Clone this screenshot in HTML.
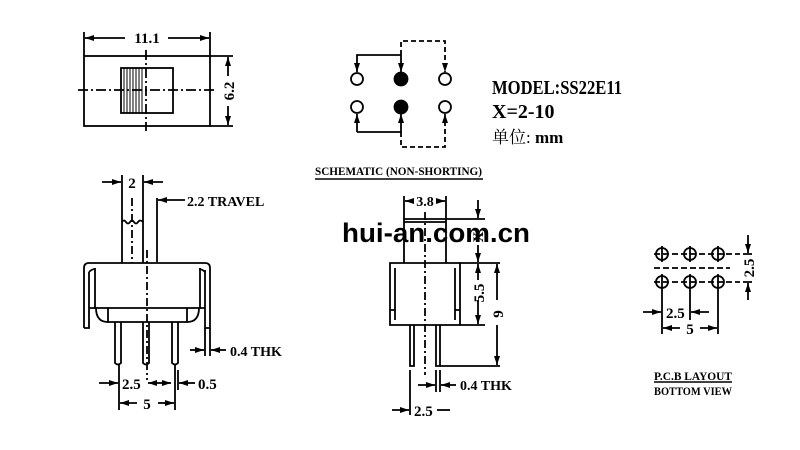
<!DOCTYPE html>
<html><head><meta charset="utf-8"><style>
html,body{margin:0;padding:0;background:#fff}
svg{display:block}
text{font-family:"Liberation Serif",serif;font-weight:bold;fill:#000}
</style></head><body>
<svg width="800" height="450" viewBox="0 0 800 450" xmlns="http://www.w3.org/2000/svg">
<defs>
<marker id="a" markerWidth="9" markerHeight="6" refX="9" refY="3" orient="auto" markerUnits="userSpaceOnUse"><path d="M0,0 L9,3 L0,6z" fill="#000"/></marker>
</defs>
<g stroke="#000" stroke-width="1.8" fill="none">
<rect x="84" y="56" width="126" height="70"/>
<rect x="121" y="68" width="52" height="45"/>
<path d="M124 68V113M127 68V113M130 68V113M133 68V113M136 68V113M139 68V113M142 68V113" stroke-width="1"/>
<path d="M146 50V131" stroke-dasharray="10,3,2,3"/>
<path d="M78 90H215" stroke-dasharray="10,3,2,3"/>
<path d="M84 32V56M210 32V56"/>
<path d="M125 38H85" marker-end="url(#a)"/><path d="M168 38H209" marker-end="url(#a)"/>
<path d="M210 56H233M210 126H233"/>
<path d="M228 76V57" marker-end="url(#a)"/><path d="M228 106V125" marker-end="url(#a)"/>
<circle cx="357" cy="79" r="6"/><circle cx="445" cy="79" r="6"/>
<circle cx="357" cy="107" r="6"/><circle cx="445" cy="107" r="6"/>
<circle cx="401" cy="79" r="6.5" fill="#000"/><circle cx="401" cy="107" r="6.5" fill="#000"/>
<path d="M401 55V72" marker-end="url(#a)"/>
<path d="M401 55H357V72" marker-end="url(#a)"/>
<path d="M401 55V41H445V72" stroke-dasharray="5,3" marker-end="url(#a)"/>
<path d="M357 132V114" marker-end="url(#a)"/>
<path d="M357 132H401V114" marker-end="url(#a)"/>
<path d="M401 132V147H445V114" stroke-dasharray="5,3" marker-end="url(#a)"/>
<path d="M315 179H483" stroke-width="1.5"/>
<path d="M122 263V222 q2,-3 4,0 q2,3 4,0 q2,-3 4,0 q2,3 4,0 q2,-3 5,0 V263"/>
<path d="M132 198V263" stroke-dasharray="8,3,2,3"/>
<path d="M157 198V262"/>
<path d="M122 175V222M143 175V222"/>
<path d="M102 182H121" marker-end="url(#a)"/><path d="M163 182H144" marker-end="url(#a)"/>
<path d="M185 200H158" marker-end="url(#a)"/>
<path d="M84 328V268 q0,-5 5,-5 H205 q5,0 5,5 V328 H205 V270"/>
<path d="M84 328H89V272"/>
<path d="M89 272 q3,-3 6,-3 M205 272 q-3,-3 -6,-3"/>
<path d="M95 268V308 H108 V322 H187 V308 H200 V268"/>
<path d="M89 308H96 M108 308H187 M200 308H205" />
<path d="M96 308 q0,14 12,14 M199 308 q0,14 -12,14" />
<path d="M147 250V380" stroke-dasharray="8,3,2,3"/>
<path d="M115 322V363 q3,3 6,0 V322 M143 322V363 q3,3 6,0 V322 M172 322V363 q3,3 6,0 V322"/>
<path d="M205 328V356M210 328V356"/>
<path d="M190 350H204" marker-end="url(#a)"/><path d="M226 350H211" marker-end="url(#a)"/>
<path d="M119 365V410M175 365V410M178 370V390"/>
<path d="M99 383H118" marker-end="url(#a)"/><path d="M160 383H148" marker-end="url(#a)"/>
<path d="M195 383H179" marker-end="url(#a)"/><path d="M160 383H171" marker-end="url(#a)"/>
<path d="M137 403H120" marker-end="url(#a)"/><path d="M158 403H174" marker-end="url(#a)"/>
<path d="M404 263V219H446V263"/><path d="M404 222H446"/>
<path d="M390 325V263H460V325Z"/>
<path d="M395 268V320M455 268V320M390 310H395M455 310H460"/>
<path d="M425 212V375" stroke-dasharray="8,3,2,3"/>
<path d="M410 325V366H414V325M436 325V366H440V325"/>
<path d="M404 196V219M446 196V219"/>
<path d="M414 201H405" marker-end="url(#a)"/><path d="M437 201H445" marker-end="url(#a)"/>
<path d="M446 219H485M460 263H500M460 325H485M440 366H500"/>
<path d="M478 200V218" marker-end="url(#a)"/><path d="M478 245V262" marker-end="url(#a)"/>
<path d="M478 280V264" marker-end="url(#a)"/><path d="M478 300V324" marker-end="url(#a)"/>
<path d="M497 300V264" marker-end="url(#a)"/><path d="M497 325V365" marker-end="url(#a)"/>
<path d="M436 370V392M440 370V392M410 370V415"/>
<path d="M418 385H435" marker-end="url(#a)"/><path d="M456 385H441" marker-end="url(#a)"/>
<path d="M392 410H409" marker-end="url(#a)"/><path d="M450 410H437"/>
<circle cx="662" cy="254" r="6"/><circle cx="690" cy="254" r="6"/><circle cx="718" cy="254" r="6"/>
<circle cx="662" cy="282" r="6"/><circle cx="690" cy="282" r="6"/><circle cx="718" cy="282" r="6"/>
<path d="M654 254H740M654 282H740M654 268H730" stroke-dasharray="6,3"/>
<path d="M662 246V262M690 246V262M718 246V262M662 274V290M690 274V290M718 274V290"/>
<path d="M662 290V334M690 290V320M718 290V334"/>
<path d="M743 254H752M743 282H752"/>
<path d="M748 235V253" marker-end="url(#a)"/><path d="M748 300V283" marker-end="url(#a)"/>
<path d="M643 312H661" marker-end="url(#a)"/><path d="M709 312H691" marker-end="url(#a)"/>
<path d="M680 328H663" marker-end="url(#a)"/><path d="M700 328H717" marker-end="url(#a)"/>
<path d="M654 382H732" stroke-width="1.5"/>
</g>
<text x="147" y="43" font-size="15" text-anchor="middle" font-family="Liberation Sans">11.1</text>
<text transform="translate(234,91) rotate(-90)" font-size="15" text-anchor="middle">6.2</text>
<text x="492" y="94" font-size="20" textLength="130" lengthAdjust="spacingAndGlyphs">MODEL:SS22E11</text>
<text x="492" y="118" font-size="20">X=2-10</text>
<text x="492" y="143" font-size="17" style="font-weight:normal;font-family:'Liberation Serif','Noto Serif CJK SC',serif">单位: <tspan font-weight="bold">mm</tspan></text>
<text x="315" y="175" font-size="12" textLength="167" lengthAdjust="spacingAndGlyphs">SCHEMATIC (NON-SHORTING)</text>
<text x="132" y="188" font-size="15" text-anchor="middle">2</text>
<text x="187" y="206" font-size="14">2.2 TRAVEL</text>
<text x="230" y="356" font-size="14">0.4 THK</text>
<text x="122" y="389" font-size="15">2.5</text>
<text x="198" y="389" font-size="15">0.5</text>
<text x="147" y="409" font-size="15" text-anchor="middle">5</text>
<text x="425" y="206" font-size="14" text-anchor="middle">3.8</text>
<text transform="translate(483,237) rotate(-90)" font-size="15" text-anchor="middle">X</text>
<text transform="translate(484,293) rotate(-90)" font-size="15" text-anchor="middle">5.5</text>
<text transform="translate(503,314) rotate(-90)" font-size="15" text-anchor="middle">9</text>
<text x="460" y="390" font-size="14">0.4 THK</text>
<text x="414" y="416" font-size="15">2.5</text>
<text transform="translate(754,268) rotate(-90)" font-size="15" text-anchor="middle">2.5</text>
<text x="666" y="318" font-size="15">2.5</text>
<text x="690" y="334" font-size="15" text-anchor="middle">5</text>
<text x="654" y="380" font-size="12" textLength="78" lengthAdjust="spacingAndGlyphs">P.C.B LAYOUT</text>
<text x="654" y="395" font-size="12" textLength="78" lengthAdjust="spacingAndGlyphs">BOTTOM VIEW</text>
<text x="342" y="242" font-size="27" textLength="188" lengthAdjust="spacingAndGlyphs" style="font-family:'Liberation Sans',sans-serif">hui-an.com.cn</text>
</svg>
</body></html>
